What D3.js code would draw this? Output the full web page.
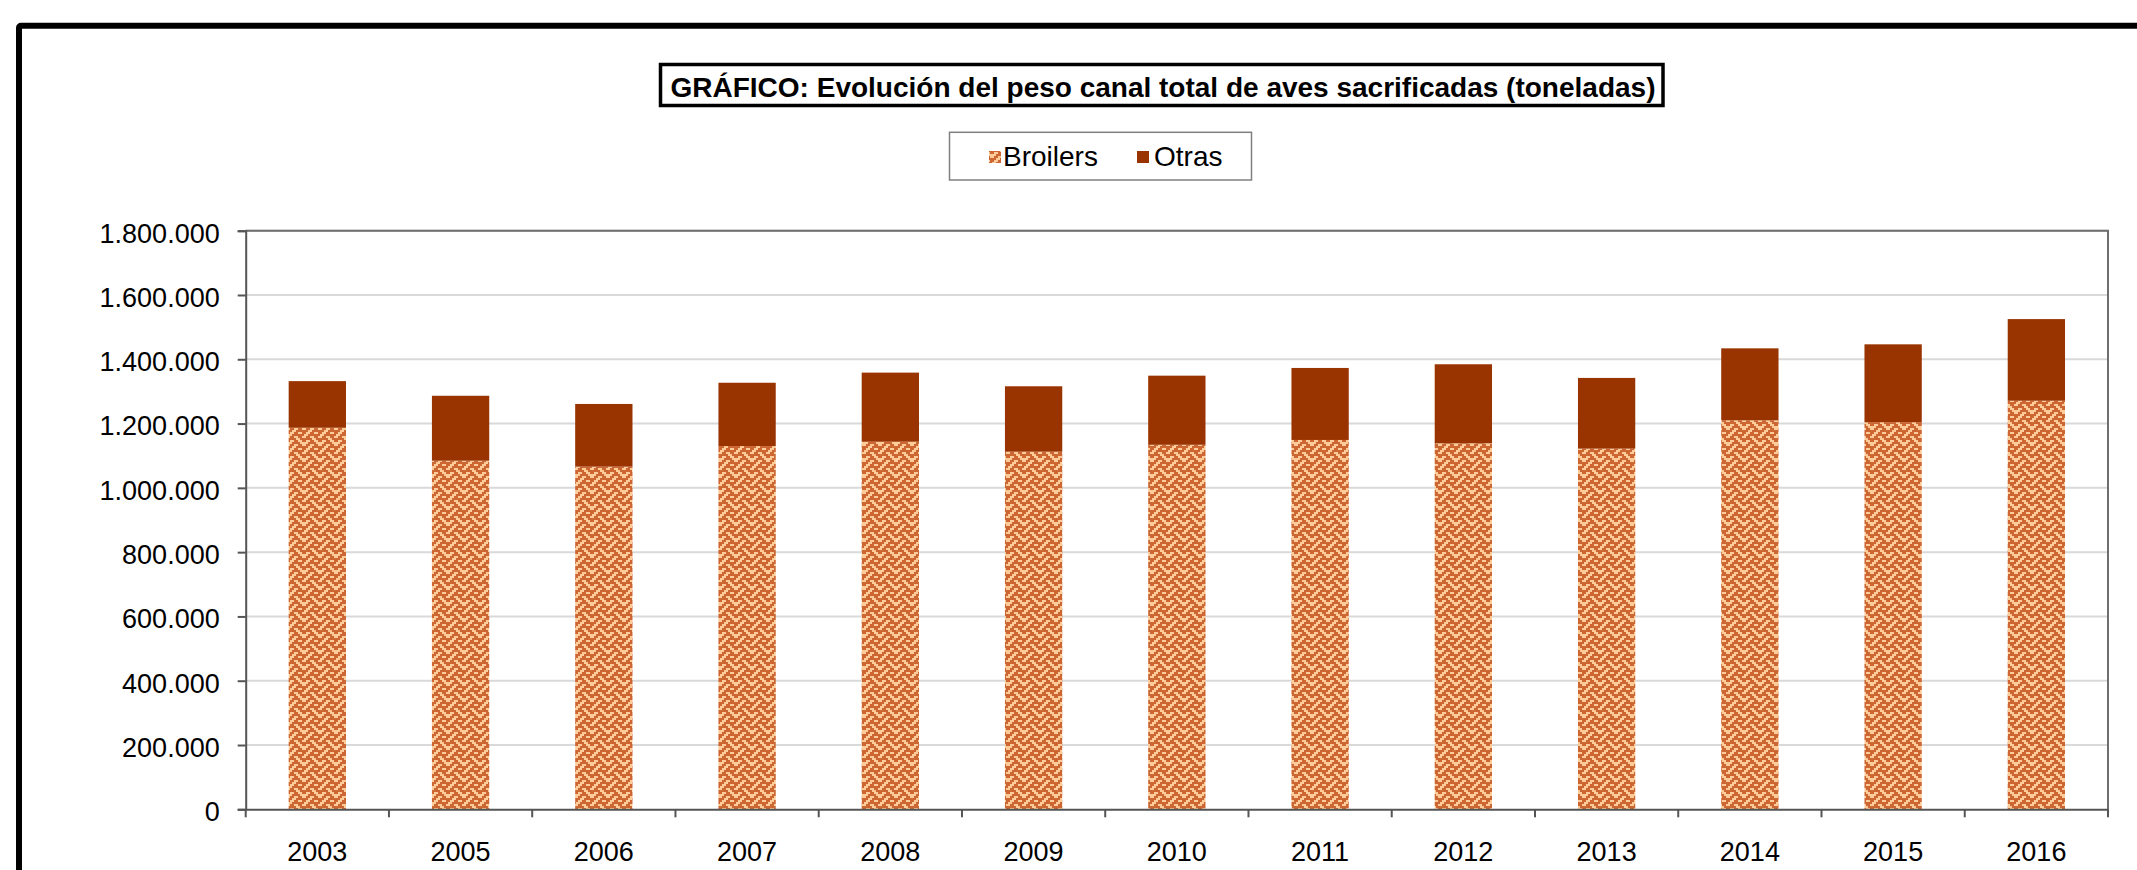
<!DOCTYPE html>
<html>
<head>
<meta charset="utf-8">
<script src="https://cdn.jsdelivr.net/npm/d3@7"></script>
<style>
  body { margin: 0; background: #fff; }
  text { font-family: "Liberation Sans", Arial, sans-serif; fill: #000; }
</style>
</head>
<body>
<script>
// data (toneladas)
var years = ["2003", "2005", "2006", "2007", "2008", "2009", "2010", "2011", "2012", "2013", "2014", "2015", "2016"];
var broilers = [1187000, 1084500, 1066000, 1130000, 1143500, 1112500, 1134000, 1149000, 1138500, 1122000, 1210000, 1204000, 1271000];
var otras = [145000, 202000, 195000, 197000, 215000, 203500, 215000, 224000, 246000, 220000, 224000, 242500, 254000];
var yTicks = [0, 200000, 400000, 600000, 800000, 1000000, 1200000, 1400000, 1600000, 1800000];
var seriesNames = ["Broilers", "Otras"];
var titleText = "GRÁFICO: Evolución del peso canal total de aves sacrificadas (toneladas)";

var width = 2137, height = 870;
var margin = {left: 245.7, right: 29, top: 230.7, bottom: 60.7};

var svg = d3.select("body").append("svg")
    .attr("width", width)
    .attr("height", height);

// weave fill like the excel pattern (base bitmap, thickened one pixel to the right)
var weave = ["00010001", "00101010", "01000100", "10100010", "00010001", "00101000", "01000100", "10001010"];
var px = 2;
var pat = svg.append("defs").append("pattern")
    .attr("id", "weave")
    .attr("patternUnits", "userSpaceOnUse")
    .attr("width", 8 * px)
    .attr("height", 8 * px);
pat.append("rect").attr("width", 8 * px).attr("height", 8 * px).attr("fill", "#FFCC99");
weave.forEach(function (row, r) {
    for (var c = 0; c < 8; c++) {
        var on = row[c] === "1" || row[(c + 7) % 8] === "1";
        if (on) {
            pat.append("rect")
                .attr("x", c * px).attr("y", r * px)
                .attr("width", px).attr("height", px)
                .attr("fill", "#CC6633");
        }
    }
});
var colors = ["url(#weave)", "#993300"];

// outer frame (runs off the right and bottom)
svg.append("rect")
    .attr("x", 19).attr("y", 25.7)
    .attr("width", width).attr("height", height)
    .attr("rx", 2)
    .attr("fill", "none")
    .attr("stroke", "#000")
    .attr("stroke-width", 6);

// title box
var tg = svg.append("g");
tg.append("rect")
    .attr("x", 660.5).attr("y", 64.5)
    .attr("width", 1002.5).attr("height", 41)
    .attr("fill", "#fff")
    .attr("stroke", "#000")
    .attr("stroke-width", 3.5);
tg.append("text")
    .attr("x", 1163)
    .attr("y", 96.5)
    .attr("text-anchor", "middle")
    .style("font-size", "28px")
    .style("font-weight", "bold")
    .text(titleText);

// scales
var x = d3.scaleBand()
    .domain(years)
    .range([margin.left, width - margin.right])
    .paddingInner(0.6)
    .paddingOuter(0.3);

var y = d3.scaleLinear()
    .domain([0, 1800000])
    .range([height - margin.bottom, margin.top]);

var loc = d3.formatLocale({decimal: ",", thousands: ".", grouping: [3], currency: ["", ""]});
var fmt = loc.format(",d");

// gridlines
svg.append("g").selectAll("line")
    .data(yTicks.slice(1))
    .enter().append("line")
    .attr("x1", x.range()[0]).attr("x2", x.range()[1])
    .attr("y1", function (d) { return y(d); })
    .attr("y2", function (d) { return y(d); })
    .attr("stroke", "#D9D9D9")
    .attr("stroke-width", 2);

// plot area border (top/right)
svg.append("path")
    .attr("d", "M" + x.range()[0] + "," + y(1800000) + "H" + x.range()[1] + "V" + y(0))
    .attr("fill", "none")
    .attr("stroke", "#6e6e6e")
    .attr("stroke-width", 2);

// stacked bars
var stackData = years.map(function (yr, i) {
    return {year: yr, Broilers: broilers[i], Otras: otras[i]};
});
var stack = d3.stack().keys(seriesNames)(stackData);

svg.append("g").selectAll("g")
    .data(stack)
    .enter().append("g")
    .attr("fill", function (d, i) { return colors[i]; })
    .selectAll("rect")
    .data(function (d) { return d; })
    .enter().append("rect")
    .attr("x", function (d) { return x(d.data.year); })
    .attr("width", x.bandwidth())
    .attr("y", function (d) { return y(d[1]); })
    .attr("height", function (d) { return y(d[0]) - y(d[1]); });

// y axis
var yAxis = d3.axisLeft(y)
    .tickValues(yTicks)
    .tickSize(8)
    .tickFormat(function (d) { return fmt(d); });
var ya = svg.append("g")
    .attr("transform", "translate(" + x.range()[0] + ",0)")
    .call(yAxis);
ya.select(".domain").attr("stroke", "#555").attr("stroke-width", 2);
ya.selectAll(".tick line").attr("stroke", "#555").attr("stroke-width", 2);
ya.selectAll(".tick text")
    .attr("x", -26)
    .attr("dy", "0.42em")
    .style("font-size", "27px")
    .style("font-family", "'Liberation Sans', Arial, sans-serif")
    .attr("fill", "#000");

// x axis: labels centred, ticks on category boundaries
var xAxis = d3.axisBottom(x).tickSize(0).tickPadding(0);
var xa = svg.append("g")
    .attr("transform", "translate(0," + y(0) + ")")
    .call(xAxis);
xa.select(".domain").attr("stroke", "#555").attr("stroke-width", 2);
xa.selectAll(".tick text")
    .attr("y", 52)
    .attr("dy", 0)
    .style("font-size", "27px")
    .style("font-family", "'Liberation Sans', Arial, sans-serif")
    .attr("fill", "#000");

xa.selectAll(".bound")
    .data(d3.range(years.length + 1))
    .enter().append("line")
    .attr("class", "bound")
    .attr("x1", function (i) { return x.range()[0] + i * x.step(); })
    .attr("x2", function (i) { return x.range()[0] + i * x.step(); })
    .attr("y1", 0).attr("y2", 8)
    .attr("stroke", "#555")
    .attr("stroke-width", 2);

// legend
var lg = svg.append("g");
lg.append("rect")
    .attr("x", 949.5).attr("y", 132.3)
    .attr("width", 302).attr("height", 47.7)
    .attr("fill", "#fff")
    .attr("stroke", "#808080")
    .attr("stroke-width", 1.5);
var legItems = [
    {name: seriesNames[0], mx: 989, tx: 1003},
    {name: seriesNames[1], mx: 1137, tx: 1154}
];
legItems.forEach(function (it, i) {
    lg.append("rect")
        .attr("x", it.mx).attr("y", 151)
        .attr("width", 12).attr("height", 12)
        .attr("fill", colors[i]);
    lg.append("text")
        .attr("x", it.tx).attr("y", 166)
        .style("font-size", "28px")
        .text(it.name);
});
</script>
</body>
</html>
